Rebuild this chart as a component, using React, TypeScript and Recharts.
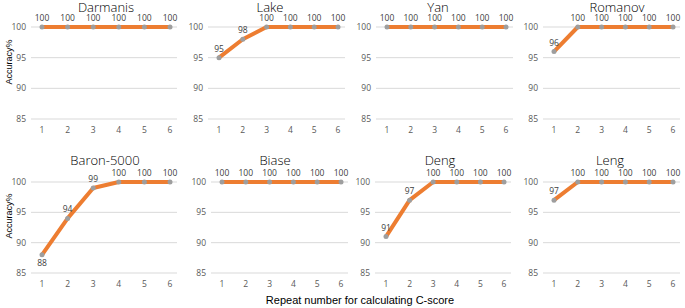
import React from 'react';
import { LineChart, Line, XAxis, YAxis, CartesianGrid, LabelList } from 'recharts';

const repeats = ['1', '2', '3', '4', '5', '6'];
const yTicks = [85, 90, 95, 100];

const darmanis = [100, 100, 100, 100, 100, 100];
const lake = [95, 98, 100, 100, 100, 100];
const yan = [100, 100, 100, 100, 100, 100];
const romanov = [96, 100, 100, 100, 100, 100];
const baron = [88, 94, 99, 100, 100, 100];
const biase = [100, 100, 100, 100, 100, 100];
const deng = [91, 97, 100, 100, 100, 100];
const leng = [97, 100, 100, 100, 100, 100];

const ORANGE = '#ED7D31';
const TICK = '#595959';
const FONT = '"Open Sans", "Noto Sans", sans-serif';

interface PanelProps {
  title: string;
  values: number[];
  p1: number; // x of first point
  p6: number; // x of last point
  top: number; // y of 100
  bottom: number; // y of 85
  titleX: number;
  titleTop: number;
}

const PointLabel = (props: any) => {
  const { x, y, value } = props;
  const below = value < 90;
  return (
    <text
      x={ x }
      y={ below ? y + 11 : y - 6 }
      textAnchor="middle"
      fontSize={ 8.5 }
      fontFamily={ FONT }
      fill="#404040"
    >
      { value }
    </text>
  );
};

function Panel({ title, values, p1, p6, top, bottom, titleX, titleTop }: PanelProps) {
  const data = repeats.map((r, i) => ({ name: r, acc: values[i] }));
  const plotLeft = p1 - 11;
  const plotRight = p6 + 7;
  const yAxisW = 30;
  const mTop = 24;
  const xAxisH = 22;
  const chartLeft = plotLeft - yAxisW;
  const width = plotRight - chartLeft + 2;
  const height = mTop + (bottom - top) + xAxisH;
  return (
    <>
      <div style={ { position: 'absolute', left: chartLeft, top: top - mTop } }>
        <LineChart width={ width } height={ height } data={ data } margin={ { top: mTop, right: 2, bottom: 0, left: 0 } }>
          <CartesianGrid vertical={ false } stroke="#D9D9D9" strokeWidth={ 1 } />
          <XAxis
            dataKey="name"
            height={ xAxisH }
            padding={ { left: 11, right: 7 } }
            tickLine={ false }
            axisLine={ false }
            tickSize={ 0 }
            tickMargin={ 8 }
            tick={ { fontSize: 8.5, fill: TICK, fontFamily: FONT } }
            interval={ 0 }
          />
          <YAxis
            width={ yAxisW }
            domain={ [85, 100] }
            ticks={ yTicks }
            tickLine={ false }
            axisLine={ false }
            tickSize={ 0 }
            tickMargin={ 5 }
            tick={ { fontSize: 8.5, fill: TICK, fontFamily: FONT } }
          />
          <Line
            dataKey="acc"
            stroke={ ORANGE }
            strokeWidth={ 4 }
            strokeLinejoin="round"
            dot={ { r: 2.5, fill: '#9E9E9E', stroke: 'none' } }
            activeDot={ false }
            isAnimationActive={ false }
          >
            <LabelList dataKey="acc" content={ PointLabel } />
          </Line>
        </LineChart>
      </div>
      <div
        style={ {
          position: 'absolute',
          left: titleX,
          top: titleTop,
          transform: 'translateX(-50%)',
          fontFamily: FONT,
          fontSize: 13,
          fontWeight: 300,
          lineHeight: '12px',
          color: '#000',
          whiteSpace: 'nowrap',
        } }
      >
        { title }
      </div>
    </>
  );
}

export default function App() {
  return (
    <div
      style={ {
        position: 'absolute',
        left: 0,
        top: 0,
        width: 685,
        height: 308,
        background: '#fff',
        overflow: 'hidden',
      } }
    >
      <Panel title="Darmanis" values={ darmanis } p1={ 42 } p6={ 170 } top={ 27 } bottom={ 119 } titleX={ 106 } titleTop={ 1 } />
      <Panel title="Lake" values={ lake } p1={ 219 } p6={ 338 } top={ 27 } bottom={ 119 } titleX={ 270 } titleTop={ 1 } />
      <Panel title="Yan" values={ yan } p1={ 387 } p6={ 506 } top={ 27 } bottom={ 119 } titleX={ 438 } titleTop={ 1 } />
      <Panel title="Romanov" values={ romanov } p1={ 554 } p6={ 673 } top={ 27 } bottom={ 119 } titleX={ 617 } titleTop={ 1 } />
      <Panel title="Baron-5000" values={ baron } p1={ 42 } p6={ 170 } top={ 182 } bottom={ 273 } titleX={ 105 } titleTop={ 154 } />
      <Panel title="Biase" values={ biase } p1={ 222 } p6={ 341 } top={ 182 } bottom={ 273 } titleX={ 275 } titleTop={ 154 } />
      <Panel title="Deng" values={ deng } p1={ 386 } p6={ 504 } top={ 182 } bottom={ 273 } titleX={ 440 } titleTop={ 154 } />
      <Panel title="Leng" values={ leng } p1={ 554 } p6={ 673 } top={ 182 } bottom={ 273 } titleX={ 610 } titleTop={ 154 } />
      <div
        style={ {
          position: 'absolute',
          left: 9,
          top: 62,
          transform: 'translate(-50%, -50%) rotate(-90deg)',
          fontFamily: '"Liberation Sans", Arial, sans-serif',
          fontSize: 9,
          color: '#000',
          whiteSpace: 'nowrap',
        } }
      >
        Accuracy%
      </div>
      <div
        style={ {
          position: 'absolute',
          left: 9,
          top: 216,
          transform: 'translate(-50%, -50%) rotate(-90deg)',
          fontFamily: '"Liberation Sans", Arial, sans-serif',
          fontSize: 9,
          color: '#000',
          whiteSpace: 'nowrap',
        } }
      >
        Accuracy%
      </div>
      <div
        style={ {
          position: 'absolute',
          left: 360,
          top: 300,
          transform: 'translate(-50%, -50%)',
          fontFamily: '"Liberation Sans", Arial, sans-serif',
          fontSize: 11,
          color: '#000',
          whiteSpace: 'nowrap',
        } }
      >
        Repeat number for calculating C-score
      </div>
    </div>
  );
}
